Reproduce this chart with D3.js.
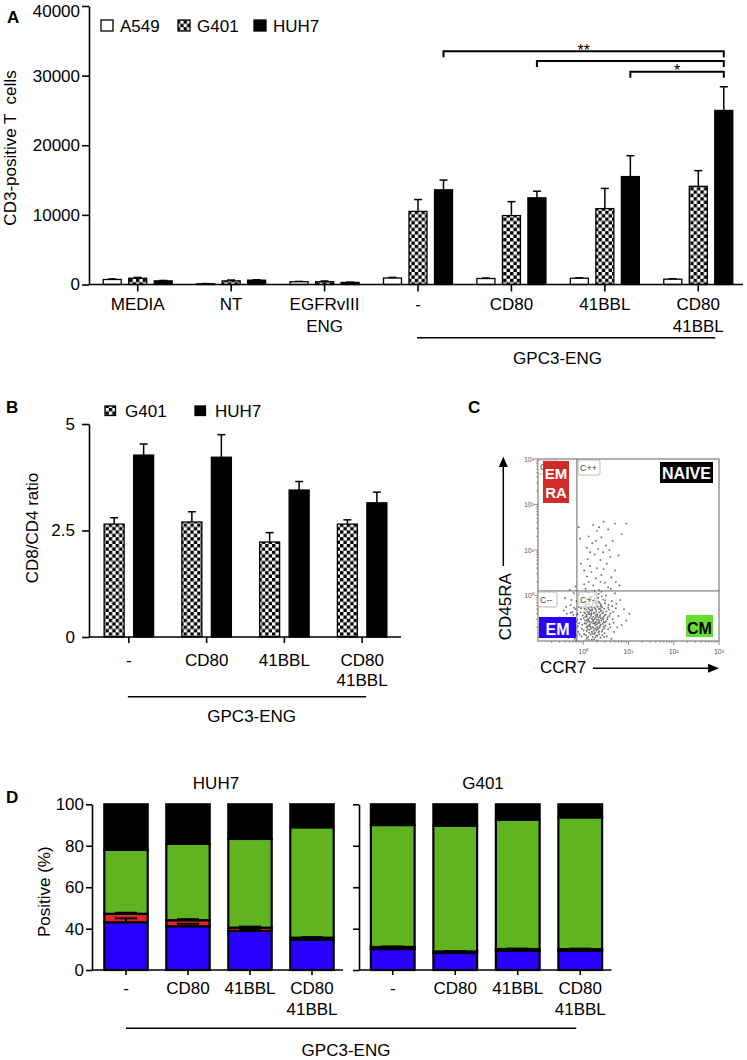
<!DOCTYPE html>
<html><head><meta charset="utf-8">
<script src="https://cdn.jsdelivr.net/npm/d3@7"></script>
<style>
body{margin:0;background:#fff;}
svg{display:block;font-family:"Liberation Sans",Arial,Helvetica,sans-serif;}
text{white-space:pre;}
</style></head><body>
<svg id="fig" width="747" height="1060"></svg>
<script>
// ================= DATA =================
// Panel A
const groupsA = ["MEDIA", "NT", "EGFRvIII\nENG", "-", "CD80", "41BBL", "CD80\n41BBL"];
const seriesA = ["A549", "G401", "HUH7"];
const a549A    = [720, 100, 400, 930, 860, 900, 760];
const a549AErr = [80, 30, 40, 90, 70, 60, 70];
const g401A    = [900, 520, 400, 10500, 9900, 10900, 14100];
const g401AErr = [120, 120, 100, 1700, 2000, 2900, 2250];
const huh7A    = [520, 620, 300, 13600, 12450, 15500, 25000];
const huh7AErr = [60, 60, 40, 1400, 950, 3000, 3400];
const yTicksA  = [0, 10000, 20000, 30000, 40000];
const sigFromA  = ["-", "CD80", "41BBL"];
const sigToA    = "CD80\n41BBL";
const sigLevelA = [33500, 32100, 30550];
const sigLabelA = ["**", "", "*"];
const groupLabel = "GPC3-ENG";

// Panel B
const groupsB  = ["-", "CD80", "41BBL", "CD80\n41BBL"];
const seriesB  = ["G401", "HUH7"];
const g401B    = [2.65, 2.70, 2.23, 2.65];
const g401BErr = [0.15, 0.24, 0.22, 0.10];
const huh7B    = [4.27, 4.22, 3.45, 3.15];
const huh7BErr = [0.26, 0.53, 0.20, 0.25];
const yTicksB  = [0, 2.5, 5];

// Panel C (log10 units: [CCR7, CD45RA])
const cytoTicks = [0, 1, 2, 3];
const cytoTickLabels = ["10\u2070", "10\u00b9", "10\u00b2", "10\u00b3"];
const gateCCR7 = -0.14, gateCD45RA = 0.1;
const quadLabels = ["C", "C++", "C--", "C+-"];
const cytoPts = [
[0.12,-0.55],[0.25,-0.62],[0.31,-0.41],[0.08,-0.78],[0.44,-0.52],[0.19,-0.33],[0.36,-0.71],[0.05,-0.22],[0.28,-0.88],[0.51,-0.35],
[0.15,-0.12],[0.39,-0.19],[0.22,-0.47],[0.03,-0.61],[0.47,-0.83],[0.33,-0.05],[0.11,-0.91],[0.26,-0.28],[0.58,-0.63],[0.17,-0.72],
[0.42,-0.39],[0.07,-0.43],[0.35,-0.56],[0.21,-0.15],[0.49,-0.11],[0.13,-0.36],[0.29,-0.77],[0.54,-0.48],[0.02,-0.85],[0.38,-0.93],
[0.18,-0.59],[0.45,-0.68],[0.09,-0.08],[0.32,-0.25],[0.24,-0.96],[0.56,-0.21],[0.14,-0.49],[0.41,-0.02],[0.27,-0.66],[0.06,-0.31],
[0.37,-0.45],[0.20,-0.84],[0.50,-0.57],[0.16,-0.24],[0.30,-0.53],[0.43,-0.75],[0.10,-0.67],[0.23,-0.38],[0.34,-0.14],[0.01,-0.50],
[0.46,-0.29],[0.19,-0.97],[0.28,-0.44],[0.60,-0.40],[0.12,-0.18],[0.39,-0.64],[0.25,-0.06],[0.08,-0.94],[0.33,-0.81],[0.52,-0.90],
[0.15,-0.63],[0.40,-0.33],[0.22,-0.71],[0.04,-0.39],[0.31,-0.99],[0.47,-0.44],[0.18,-0.42],[0.26,-0.17],[0.36,-0.60],[0.11,-0.27],
[0.55,-0.74],[0.21,-0.54],[0.44,-0.09],[0.07,-0.70],[0.29,-0.35],[0.13,-0.82],[0.38,-0.50],[0.24,-0.26],[0.49,-0.66],[0.17,-0.04],
[0.32,-0.69],[0.02,-0.14],[0.42,-0.87],[0.20,-0.30],[0.35,-0.37],[0.09,-0.58],[0.27,-0.92],[0.57,-0.31],[0.14,-0.75],[0.45,-0.58],
[0.23,-0.10],[0.30,-0.63],[0.05,-0.47],[0.40,-0.23],[0.19,-0.80],[0.34,-0.48],[0.48,-0.17],[0.11,-0.40],[0.26,-0.73],[0.37,-0.29],
[-0.20,-0.50],[-0.31,-0.72],[-0.17,-0.30],[-0.42,-0.61],[-0.25,-0.88],[-0.15,-0.12],[-0.36,-0.40],[-0.22,-0.65],[-0.48,-0.83],[-0.19,-0.95],
[-0.28,-0.21],[-0.40,-0.06],[-0.16,-0.57],[-0.33,-0.93],[-0.24,-0.36],[-0.52,-0.48],[-0.18,-0.78],[-0.29,-0.55],[-0.38,-0.25],[-0.21,0.05],
[-0.45,-0.70],[-0.26,-0.10],[-0.14,-0.42],[-0.34,-0.62],[-0.23,-0.82],[-0.30,0.12],[-0.17,0.20],[-0.43,-0.33],[-0.12,-0.68],[-0.10,-0.25],
[-0.08,-0.85],[-0.05,-0.52],[-0.07,-0.15],[-0.03,-0.73],[-0.09,0.02],
[0.65,-0.52],[0.72,-0.28],[0.68,-0.80],[0.78,-0.45],[0.63,-0.12],[0.85,-0.65],[0.70,0.05],[0.62,-0.95],[0.90,-0.30],[0.75,-0.70],
[0.66,-0.36],[0.82,-0.10],[0.95,-0.55],[0.61,0.15],[0.73,-0.18],[0.80,0.22],[0.67,-0.60],[1.02,-0.40],
[0.05,0.15],[0.22,0.22],[0.35,0.12],[0.12,0.30],[0.48,0.28],[0.28,0.38],[0.55,0.18],[0.08,0.42],[0.40,0.45],[0.18,0.52],
[0.62,0.40],[0.30,0.60],[0.02,0.25],[0.45,0.58],[0.25,0.10],[0.15,0.65],[0.52,0.70],[0.38,0.78],[0.70,0.55],[0.10,0.80],
[0.60,0.85],[0.25,0.90],[0.44,0.95],[-0.05,0.70],[0.33,1.02],[0.78,0.88],[0.50,1.10],[0.20,1.15],[0.65,1.20],[0.40,1.28],
[0.12,1.30],[0.85,1.35],[0.30,1.42],[0.55,1.45],[-0.07,1.25],[0.22,1.55],[0.45,1.62],[0.35,1.50],[0.70,1.58],[0.95,1.58],
[0.28,1.20],[0.58,1.00],[0.08,1.05],[-0.10,1.50],[0.15,0.95],[0.72,0.30],[0.02,0.55],[0.38,0.30],
[0.14,-0.58],[0.27,-0.49],[0.09,-0.35],[0.33,-0.60],[0.20,-0.69],[0.04,-0.55],[0.38,-0.42],[0.16,-0.86],[0.29,-0.20],[0.45,-0.47],
[0.10,-0.74],[0.24,-0.52],[0.35,-0.79],[0.06,-0.62],[0.42,-0.26],[0.18,-0.39],[0.31,-0.89],[0.53,-0.52],[0.13,-0.30],[0.26,-0.82],
[0.39,-0.34],[0.01,-0.77],[0.22,-0.61],[0.47,-0.72],[0.08,-0.46],[0.34,-0.30],[0.19,-0.51],[0.28,-0.58],[0.43,-0.62],[0.12,-0.97],
[0.36,-0.16],[0.03,-0.29],[0.25,-0.39],[0.50,-0.42],[0.15,-0.68],[0.30,-0.46],[0.21,-0.91],[0.40,-0.55],[0.07,-0.19],[0.32,-0.74],
[-0.02,-0.64],[-0.06,-0.37],[-0.11,-0.80],[-0.04,-0.90],[-0.13,-0.53],[-0.01,-0.44],[-0.09,-0.61],[-0.15,-0.88],[-0.05,-0.28],[-0.12,-0.41],
[-0.18,-0.63],[-0.22,-0.43],[-0.27,-0.70],[-0.20,-0.27],[-0.32,-0.52],[-0.25,-0.60],[-0.35,-0.80],[-0.16,-0.99],[-0.28,-0.38],[-0.21,-0.75],
[0.17,-0.45],[0.23,-0.77],[0.37,-0.67],[0.11,-0.52],[0.28,-0.31],[0.44,-0.37],[0.06,-0.88],[0.20,-0.20],[0.33,-0.53],[0.14,-0.41],
[0.48,-0.59],[0.26,-0.60],[0.09,-0.69],[0.41,-0.79],[0.18,-0.26],[0.31,-0.42],[0.02,-0.37],[0.24,-0.84],[0.38,-0.24],[0.13,-0.65],
[0.55,-0.27],[0.27,-0.13],[0.46,-0.91],[0.05,-0.98],[0.35,-0.85],[0.16,-0.33],[0.22,-0.56],[0.30,-0.72],[0.08,-0.54],[0.42,-0.50],
[0.60,-0.70],[0.58,-0.45],[0.64,-0.23],[0.12,0.05],[0.26,0.02],[0.40,0.08],[0.18,-0.02],[0.05,0.08],[0.34,0.04],[0.50,0.00]
];

// Panel D
const stackKeys   = ["EM", "EMRA", "CM", "NAIVE"];
const huh7EM      = [43.1, 41.2, 37.8, 29.1];
const huh7EMRA    = [4.1, 2.9, 2.7, 2.2];
const huh7CM      = [30.8, 36.8, 42.8, 57.6];
const huh7NAIVE   = [22.0, 19.1, 16.7, 11.1];
const huh7EMErr   = [1.9, 1.2, 0.9, 0.8];
const huh7EMRAErr = [0.5, 0.5, 0.5, 0.5];
const g401EM      = [20.3, 16.5, 18.7, 18.7];
const g401EMRA    = [2.0, 1.5, 1.6, 1.5];
const g401CM      = [67.7, 71.7, 72.3, 73.5];
const g401NAIVE   = [10.0, 10.3, 7.4, 6.3];
const g401EMErr   = [0.8, 0.6, 0.7, 0.6];
const g401EMRAErr = [0.5, 0.4, 0.4, 0.5];
const yTicksD     = [0, 40, 60, 80, 100];

// ================= RENDER =================
const svg = d3.select("#fig");
const defs = svg.append("defs");
function checker(id, s) {
  const p = defs.append("pattern").attr("id", id).attr("patternUnits", "userSpaceOnUse")
    .attr("width", 2 * s).attr("height", 2 * s);
  p.append("rect").attr("width", 2 * s).attr("height", 2 * s).attr("fill", "#fff");
  p.append("rect").attr("width", s).attr("height", s).attr("fill", "#000");
  p.append("rect").attr("x", s).attr("y", s).attr("width", s).attr("height", s).attr("fill", "#000");
}
checker("chk", 3.4);
const fillA = {A549: "#fff", G401: "url(#chk)", HUH7: "#000"};

function styleAxis(g, fs) {
  g.selectAll(".domain").attr("stroke", "#000").attr("stroke-width", 1.6);
  g.selectAll(".tick line").attr("stroke", "#000").attr("stroke-width", 1.6);
  g.selectAll(".tick text").attr("font-size", fs).attr("fill", "#000")
    .attr("font-family", '"Liberation Sans",Arial,sans-serif');
}
function multiline(g, y1, dy) {
  g.selectAll(".tick text").each(function (d) {
    const t = d3.select(this);
    const lines = String(d).split("\n");
    t.text(null).attr("y", null).attr("dy", null);
    lines.forEach((l, i) => t.append("tspan").attr("x", 0).attr("y", y1 + i * dy).text(l));
  });
}
function panelLetter(txt, x, y) {
  svg.append("text").attr("x", x).attr("y", y).attr("font-size", 17).attr("font-weight", "bold").text(txt);
}
function errBar(g, cx, y0, y1, half) {
  g.append("line").attr("x1", cx).attr("x2", cx).attr("y1", y0).attr("y2", y1).attr("stroke", "#000").attr("stroke-width", 1.5);
  g.append("line").attr("x1", cx - half).attr("x2", cx + half).attr("y1", y1).attr("y2", y1).attr("stroke", "#000").attr("stroke-width", 1.5);
}

// ---------- Panel A ----------
const gA = svg.append("g");
const xA = d3.scaleBand().domain(groupsA).range([91, 745]);
const xInA = d3.scaleBand().domain(seriesA).range([-38.25, 38.25]).paddingInner(0.294).paddingOuter(0.147);
const yA = d3.scaleLinear().domain([0, 40000]).range([284.5, 6]);
const valsA = {A549: a549A, G401: g401A, HUH7: huh7A};
const errsA = {A549: a549AErr, G401: g401AErr, HUH7: huh7AErr};

groupsA.forEach((g, i) => {
  seriesA.forEach(s => {
    const v = valsA[s][i], e = errsA[s][i];
    const x = xA(g) + xA.bandwidth() / 2 + xInA(s);
    const cx = x + xInA.bandwidth() / 2;
    errBar(gA, cx, yA(v), yA(v + e), 4);
    gA.append("rect").attr("x", x).attr("y", yA(v)).attr("width", xInA.bandwidth())
      .attr("height", yA(0) - yA(v)).attr("fill", fillA[s]).attr("stroke", "#000").attr("stroke-width", 1.3);
  });
});
const yAxA = gA.append("g").attr("transform", "translate(89,0)")
  .call(d3.axisLeft(yA).tickValues(yTicksA).tickFormat(d3.format("d")).tickSize(7).tickPadding(2).tickSizeOuter(0));
styleAxis(yAxA, 17);
yAxA.selectAll(".tick text").filter(d => d === 40000).attr("dy", "0.62em");
const xAxA = gA.append("g").attr("transform", "translate(0,284.5)")
  .call(d3.axisBottom(xA).tickSize(7).tickSizeOuter(0));
xAxA.select(".domain").remove();
styleAxis(xAxA, 17);
multiline(xAxA, 25.5, 21.5);
gA.append("line").attr("x1", 89).attr("x2", 743).attr("y1", 284.5).attr("y2", 284.5).attr("stroke", "#000").attr("stroke-width", 1.6);
{
  const x1 = xA("-") + xA.bandwidth() / 2 - 1, x2 = xA("CD80\n41BBL") + xA.bandwidth() / 2 + 17;
  gA.append("line").attr("x1", x1).attr("x2", x2).attr("y1", 337.7).attr("y2", 337.7).attr("stroke", "#000").attr("stroke-width", 1.6);
  gA.append("text").attr("x", 557.5).attr("y", 364).attr("text-anchor", "middle").attr("font-size", 17).text(groupLabel);
}
sigFromA.forEach((f, i) => {
  const xa = xA(f) + xA.bandwidth() / 2 + xInA("HUH7") + xInA.bandwidth() / 2;
  const xb = xA(sigToA) + xA.bandwidth() / 2 + xInA("HUH7") + xInA.bandwidth() / 2;
  const y = yA(sigLevelA[i]);
  gA.append("path").attr("d", `M${xa},${y + 6}V${y}H${xb}V${y + 6}`).attr("fill", "none").attr("stroke", "#000").attr("stroke-width", 2);
  if (sigLabelA[i]) gA.append("text").attr("x", (xa + xb) / 2).attr("y", y + 4.5).attr("text-anchor", "middle").attr("font-size", 16).text(sigLabelA[i]);
});
{
  const lx = [101, 178, 254];
  seriesA.forEach((s, i) => {
    gA.append("rect").attr("x", lx[i]).attr("y", 20).attr("width", 12).attr("height", 11)
      .attr("fill", fillA[s]).attr("stroke", "#000").attr("stroke-width", 1.3);
    gA.append("text").attr("x", lx[i] + 19).attr("y", 31.5).attr("font-size", 17).text(s);
  });
}
gA.append("text").attr("transform", "translate(16,148) rotate(-90)").attr("text-anchor", "middle")
  .attr("font-size", 17).text("CD3-positive T  cells");
panelLetter("A", 7, 23);

// ---------- Panel B ----------
const gB = svg.append("g");
const xB = d3.scaleBand().domain(groupsB).range([90, 401]);
const xInB = d3.scaleBand().domain(seriesB).range([-29.5, 29.5]).paddingInner(0.322).paddingOuter(0.161);
const yB = d3.scaleLinear().domain([0, 5]).range([637, 424]);
const valsB = {G401: g401B, HUH7: huh7B};
const errsB = {G401: g401BErr, HUH7: huh7BErr};
groupsB.forEach((g, i) => {
  seriesB.forEach(s => {
    const v = valsB[s][i], e = errsB[s][i];
    const x = xB(g) + xB.bandwidth() / 2 + xInB(s);
    const cx = x + xInB.bandwidth() / 2;
    errBar(gB, cx, yB(v), yB(v + e), 4);
    gB.append("rect").attr("x", x).attr("y", yB(v)).attr("width", xInB.bandwidth())
      .attr("height", yB(0) - yB(v)).attr("fill", fillA[s]).attr("stroke", "#000").attr("stroke-width", 1.3);
  });
});
const yAxB = gB.append("g").attr("transform", "translate(89,0)")
  .call(d3.axisLeft(yB).tickValues(yTicksB).tickFormat(d => String(d)).tickSize(7).tickPadding(7).tickSizeOuter(0));
styleAxis(yAxB, 17);
const xAxB = gB.append("g").attr("transform", "translate(0,637)")
  .call(d3.axisBottom(xB).tickSize(6).tickSizeOuter(0));
xAxB.select(".domain").remove();
styleAxis(xAxB, 17);
multiline(xAxB, 29, 20);
gB.append("line").attr("x1", 89).attr("x2", 401).attr("y1", 637).attr("y2", 637).attr("stroke", "#000").attr("stroke-width", 1.6);
{
  const x1 = xB("-") + xB.bandwidth() / 2 - 1, x2 = xB("CD80\n41BBL") + xB.bandwidth() / 2 + 4;
  gB.append("line").attr("x1", x1).attr("x2", x2).attr("y1", 696.7).attr("y2", 696.7).attr("stroke", "#000").attr("stroke-width", 1.6);
  gB.append("text").attr("x", 251.7).attr("y", 722).attr("text-anchor", "middle").attr("font-size", 17).text(groupLabel);
}
{
  const lx = [105, 195];
  seriesB.forEach((s, i) => {
    gB.append("rect").attr("x", lx[i]).attr("y", 406).attr("width", 10.5).attr("height", 9.5)
      .attr("fill", fillA[s]).attr("stroke", "#000").attr("stroke-width", 1.3);
    gB.append("text").attr("x", lx[i] + 20).attr("y", 416.5).attr("font-size", 17).text(s);
  });
}
gB.append("text").attr("transform", "translate(37.5,528) rotate(-90)").attr("text-anchor", "middle")
  .attr("font-size", 17).text("CD8/CD4 ratio");
panelLetter("B", 6, 413);

// ---------- Panel C ----------
const gC = svg.append("g");
const xC = d3.scaleLinear().domain([-1, 3]).range([538, 719]);
const yC = d3.scaleLinear().domain([-1, 3]).range([641, 459]);
gC.selectAll("circle.dot").data(cytoPts).join("circle").attr("class", "dot")
  .attr("cx", d => xC(d[0])).attr("cy", d => yC(d[1])).attr("r", 0.95).attr("fill", "#707070");
gC.append("rect").attr("x", xC(-1)).attr("y", yC(3)).attr("width", xC(3) - xC(-1)).attr("height", yC(-1) - yC(3))
  .attr("fill", "none").attr("stroke", "#888").attr("stroke-width", 1.3);
gC.append("line").attr("x1", xC(gateCCR7)).attr("x2", xC(gateCCR7)).attr("y1", yC(3)).attr("y2", yC(-1)).attr("stroke", "#666").attr("stroke-width", 1);
gC.append("line").attr("x1", xC(-1)).attr("x2", xC(3)).attr("y1", yC(gateCD45RA)).attr("y2", yC(gateCD45RA)).attr("stroke", "#666").attr("stroke-width", 1);
for (let d = -1; d < 3; d++) {
  for (let k = 2; k < 10; k++) {
    const v = d + Math.log10(k);
    gC.append("line").attr("x1", xC(-1) - 2).attr("x2", xC(-1)).attr("y1", yC(v)).attr("y2", yC(v)).attr("stroke", "#777").attr("stroke-width", 0.7);
    gC.append("line").attr("x1", xC(v)).attr("x2", xC(v)).attr("y1", yC(-1)).attr("y2", yC(-1) + 2).attr("stroke", "#777").attr("stroke-width", 0.7);
  }
}
cytoTicks.forEach((t, i) => {
  gC.append("line").attr("x1", xC(-1) - 4).attr("x2", xC(-1)).attr("y1", yC(t)).attr("y2", yC(t)).attr("stroke", "#777").attr("stroke-width", 0.8);
  gC.append("line").attr("x1", xC(t)).attr("x2", xC(t)).attr("y1", yC(-1)).attr("y2", yC(-1) + 4).attr("stroke", "#777").attr("stroke-width", 0.8);
  gC.append("text").attr("x", xC(-1) - 4).attr("y", yC(t) + 2.5).attr("text-anchor", "end").attr("font-size", 7).attr("fill", "#555").text(cytoTickLabels[i]);
  gC.append("text").attr("x", xC(t)).attr("y", 654).attr("text-anchor", "middle").attr("font-size", 7).attr("fill", "#555").text(cytoTickLabels[i]);
});
{
  const qpos = [[538, 460, 20, 14], [578, 460, 22, 15], [538, 592, 19, 15], [578, 592, 19, 15]];
  quadLabels.forEach((q, i) => {
    const [x, y, w, h] = qpos[i];
    gC.append("rect").attr("x", x).attr("y", y).attr("width", w).attr("height", h).attr("rx", 2)
      .attr("fill", "#fff").attr("fill-opacity", 0.6).attr("stroke", "#aaa").attr("stroke-width", 0.8);
    gC.append("text").attr("x", x + 2).attr("y", y + h - 4).attr("font-size", 9).attr("fill", "#444").text(q);
  });
}
gC.append("rect").attr("x", 543).attr("y", 461).attr("width", 26).attr("height", 42).attr("fill", "#d02a2a");
gC.append("text").attr("x", 556).attr("y", 479).attr("text-anchor", "middle").attr("font-size", 15).attr("font-weight", "bold").attr("fill", "#fff").text("EM");
gC.append("text").attr("x", 556).attr("y", 498).attr("text-anchor", "middle").attr("font-size", 15).attr("font-weight", "bold").attr("fill", "#fff").text("RA");
gC.append("rect").attr("x", 660).attr("y", 462).attr("width", 53).attr("height", 21).attr("fill", "#000");
gC.append("text").attr("x", 686.5).attr("y", 479).attr("text-anchor", "middle").attr("font-size", 16).attr("font-weight", "bold").attr("fill", "#fff").text("NAIVE");
gC.append("rect").attr("x", 539).attr("y", 617).attr("width", 37).attr("height", 21).attr("fill", "#2a00ff");
gC.append("text").attr("x", 557.5).attr("y", 635).attr("text-anchor", "middle").attr("font-size", 16).attr("font-weight", "bold").attr("fill", "#fff").text("EM");
gC.append("rect").attr("x", 686).attr("y", 615).attr("width", 27).attr("height", 22).attr("fill", "#66dd33");
gC.append("text").attr("x", 699.5).attr("y", 633.5).attr("text-anchor", "middle").attr("font-size", 16).attr("font-weight", "bold").attr("fill", "#000").text("CM");
gC.append("line").attr("x1", 503.3).attr("x2", 503.3).attr("y1", 566).attr("y2", 466).attr("stroke", "#000").attr("stroke-width", 1.5);
gC.append("path").attr("d", "M498.8,467L503.3,456.7L507.8,467Z").attr("fill", "#000");
gC.append("text").attr("transform", "translate(511,606.7) rotate(-90)").attr("text-anchor", "middle").attr("font-size", 17).text("CD45RA");
gC.append("text").attr("x", 540).attr("y", 673).attr("font-size", 17).text("CCR7");
gC.append("line").attr("x1", 593).attr("x2", 709).attr("y1", 668.3).attr("y2", 668.3).attr("stroke", "#000").attr("stroke-width", 1.5);
gC.append("path").attr("d", "M708,663.8L719,668.3L708,672.8Z").attr("fill", "#000");
panelLetter("C", 468, 413);

// ---------- Panel D ----------
const gD = svg.append("g");
const yD = d3.scaleLinear().domain([0, 40, 100]).range([970, 928.7, 804.3]);
const colD = {EM: "#2800ff", EMRA: "#e0262a", CM: "#5fb41f", NAIVE: "#000"};
function stackPanel(range, axisX, em, emra, cm, naive, emErr, emraErr, title, titleX, showLabels) {
  const x = d3.scaleBand().domain(groupsB).range(range).paddingInner(0.3).paddingOuter(0.15);
  const rows = groupsB.map((g, i) => ({g, EM: em[i], EMRA: emra[i], CM: cm[i], NAIVE: naive[i]}));
  const series = d3.stack().keys(stackKeys)(rows);
  const g = gD.append("g");
  series.forEach(layer => {
    g.selectAll(null).data(layer).join("rect")
      .attr("x", d => x(d.data.g)).attr("y", d => yD(d[1])).attr("width", x.bandwidth())
      .attr("height", d => yD(d[0]) - yD(d[1])).attr("fill", colD[layer.key])
      .attr("stroke", "#000").attr("stroke-width", 2.2);
  });
  rows.forEach((r, i) => {
    const cx = x(r.g) + x.bandwidth() / 2;
    const t1 = r.EM, t2 = r.EM + r.EMRA;
    [[t1, emErr[i]], [t2, emraErr[i]]].forEach(([t, e]) => {
      g.append("line").attr("x1", cx).attr("x2", cx).attr("y1", yD(t)).attr("y2", yD(t + e)).attr("stroke", "#000").attr("stroke-width", 2);
      g.append("line").attr("x1", cx - 11).attr("x2", cx + 11).attr("y1", yD(t + e)).attr("y2", yD(t + e)).attr("stroke", "#000").attr("stroke-width", 2);
    });
  });
  const ya = g.append("g").attr("transform", `translate(${axisX},0)`)
    .call(d3.axisLeft(yD).tickValues(yTicksD).tickFormat(showLabels ? (d => String(d)) : "").tickSize(6).tickPadding(2).tickSizeOuter(0));
  styleAxis(ya, 17);
  const xa = g.append("g").attr("transform", "translate(0,970)").call(d3.axisBottom(x).tickSize(5).tickSizeOuter(0));
  xa.select(".domain").remove();
  styleAxis(xa, 17);
  multiline(xa, 24, 20.5);
  g.append("line").attr("x1", axisX).attr("x2", range[1]).attr("y1", 970).attr("y2", 970).attr("stroke", "#000").attr("stroke-width", 1.6);
  g.append("text").attr("x", titleX).attr("y", 789).attr("text-anchor", "middle").attr("font-size", 17).text(title);
  return x;
}
const xDh = stackPanel([95, 343], 92, huh7EM, huh7EMRA, huh7CM, huh7NAIVE, huh7EMErr, huh7EMRAErr, "HUH7", 216, true);
const xDg = stackPanel([361.5, 611.5], 359, g401EM, g401EMRA, g401CM, g401NAIVE, g401EMErr, g401EMRAErr, "G401", 483, false);
{
  const x1 = xDh("-") + xDh.bandwidth() / 2, x2 = xDg("CD80\n41BBL") + xDg.bandwidth() / 2 - 4;
  gD.append("line").attr("x1", x1).attr("x2", x2).attr("y1", 1028.3).attr("y2", 1028.3).attr("stroke", "#000").attr("stroke-width", 1.6);
  gD.append("text").attr("x", 346).attr("y", 1056).attr("text-anchor", "middle").attr("font-size", 17).text(groupLabel);
}
gD.append("text").attr("transform", "translate(49.5,891.7) rotate(-90)").attr("text-anchor", "middle")
  .attr("font-size", 17).text("Positive (%)");
panelLetter("D", 6, 803);
</script></body></html>
